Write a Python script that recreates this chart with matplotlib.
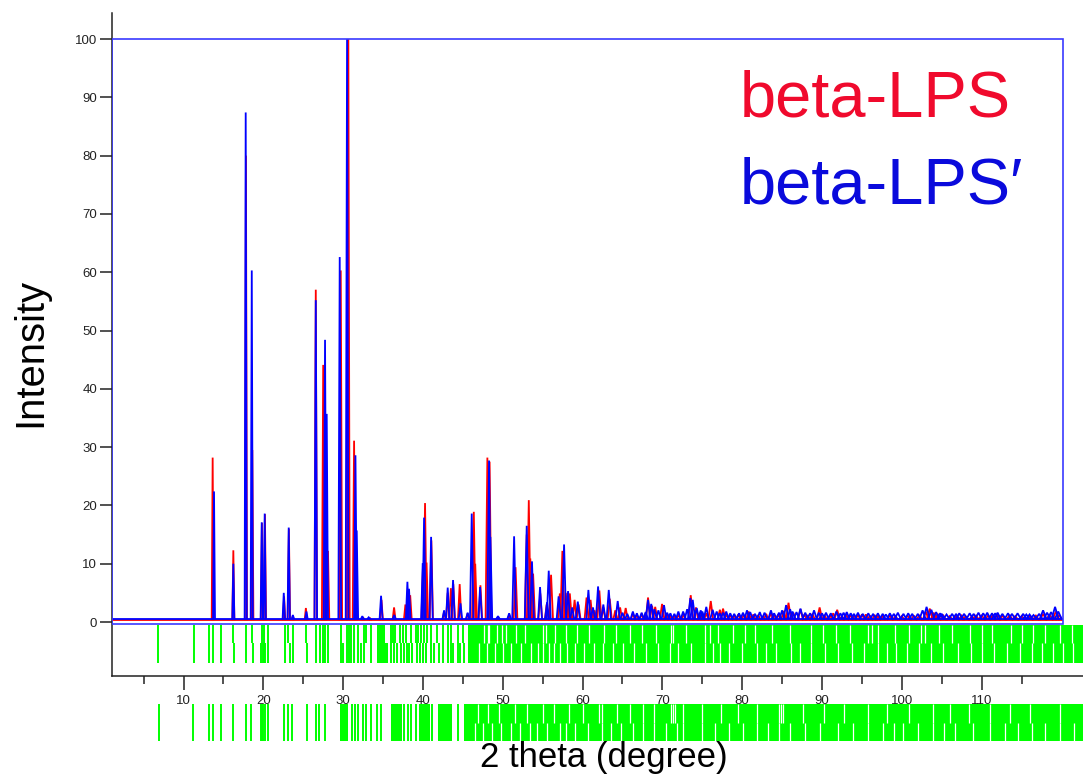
import matplotlib
matplotlib.use("Agg")
import matplotlib.pyplot as plt
from matplotlib.collections import LineCollection
from matplotlib.patches import Rectangle

plt.rcParams['font.family'] = ['Liberation Sans', 'DejaVu Sans']

# ---------------- data ----------------
red_pos = [13.65, 16.24, 17.82, 18.62, 19.82, 20.2, 22.6, 23.2, 23.7, 25.33, 26.57, 27.5, 27.7, 28.1,
           29.7, 30.65, 31.37, 31.6, 32.5, 33.4, 34.8, 36.38, 37.8, 38.1, 38.4, 40.0, 40.26, 40.45,
           41.05, 42.65, 43.1, 43.5, 43.8, 44.6, 45.6, 46.37, 46.55, 47.2, 48.07, 48.35, 49.4, 50.8,
           51.6, 53.0, 53.26, 53.45, 53.8, 54.7, 55.5, 56.05, 57.15, 57.47, 57.9, 58.4, 59.0, 59.5,
           60.5, 61.0, 61.5, 62.1, 62.6, 63.4, 64.1, 64.7, 65.4, 66.3, 67.4, 68.2, 68.7, 69.1, 69.96,
           70.5, 72.0, 73.55, 74.2, 75.0, 76.06, 77.2, 77.6, 78.5, 79.5, 80.8, 82.0, 83.6, 84.5, 85.8,
           87.3, 88.2, 89.7, 91.0, 91.9, 93.0, 94.5, 95.5, 97.0, 98.5, 100.0, 101.5, 103.5, 104.5,
           106.0, 108.0, 110.0, 112.0, 113.5, 115.0, 117.7, 119.3]
red_int = [28.2, 12.3, 80.0, 29.5, 17.0, 18.5, 4.4, 16.0, 1.0, 2.4, 57.0, 44.1, 40.0, 12.2,
           60.3, 100.0, 31.1, 15.0, 0.8, 0.6, 3.8, 2.5, 3.0, 5.5, 4.6, 9.5, 20.4, 10.2,
           14.0, 1.8, 5.0, 5.8, 6.5, 6.5, 1.5, 18.9, 10.0, 6.3, 28.2, 27.5, 0.8, 1.2,
           9.4, 15.0, 20.9, 10.9, 8.3, 4.9, 3.0, 8.1, 4.9, 12.2, 5.0, 4.9, 3.8, 3.0,
           4.2, 3.8, 2.0, 5.4, 2.5, 4.0, 2.0, 2.5, 2.4, 1.5, 1.4, 4.2, 2.8, 2.6, 3.1,
           1.5, 1.3, 4.6, 2.5, 1.5, 3.6, 2.1, 2.3, 1.2, 1.3, 1.8, 1.2, 1.5, 1.3, 3.3,
           2.2, 1.2, 2.5, 1.2, 2.1, 1.3, 1.2, 1.3, 1.0, 1.1, 1.0, 1.1, 2.3, 1.4,
           1.0, 1.0, 1.2, 1.3, 1.2, 1.0, 1.4, 1.8]
# small high-angle bumps (beta-LPS)
red_minor_pos = [66.8, 67.9, 70.9, 71.5, 72.7, 74.7, 75.5, 78.0, 79.0, 80.2, 81.4, 82.6, 83.0, 84.0,
                 85.2, 86.4, 87.8, 88.8, 90.3, 91.4, 92.5, 93.6, 94.0, 95.0, 96.0, 96.6, 97.6, 99.2,
                 100.7, 102.2, 103.0, 104.0, 105.2, 106.8, 107.5, 108.8, 109.3, 110.8, 111.4, 112.6,
                 114.2, 116.0, 116.8, 118.5, 119.7]
red_minor_int = [1.2, 1.5, 1.3, 1.0, 1.4, 1.6, 1.5, 1.3, 1.1, 1.2, 1.3, 1.0, 1.4, 1.1,
                 1.9, 1.6, 1.3, 1.4, 1.2, 1.5, 1.0, 1.2, 1.1, 1.3, 1.1, 1.2, 1.0, 1.0,
                 1.1, 1.2, 1.8, 1.6, 1.1, 1.0, 1.1, 1.0, 1.1, 1.1, 1.2, 1.1,
                 1.0, 1.0, 1.1, 1.3, 1.2]
red_base = 0.3

blue_pos = [13.82, 16.24, 17.79, 18.55, 19.8, 20.17, 22.56, 23.18, 23.7, 25.4, 26.57, 27.73, 27.94,
            29.57, 30.49, 31.54, 31.7, 32.4, 33.2, 34.75, 36.4, 38.05, 38.25, 39.97, 40.14, 41.02,
            42.65, 43.1, 43.77, 44.7, 45.6, 46.11, 47.16, 48.28, 48.45, 49.4, 50.8, 51.42, 53.0,
            53.66, 54.67, 55.55, 55.76, 57.0, 57.68, 58.18, 58.7, 59.4, 60.73, 61.3, 61.94, 62.6,
            63.28, 64.4, 65.0, 66.3, 67.4, 68.2, 68.6, 69.5, 70.2, 71.0, 72.0, 72.6, 73.5, 73.8,
            74.8, 75.5, 76.3, 77.2, 78.0, 79.0, 80.6, 82.2, 83.6, 84.6, 85.5, 86.3, 87.3, 88.5,
            89.0, 90.5, 91.8, 93.1, 94.5, 95.8, 97.0, 98.5, 99.5, 100.8, 102.0, 103.1, 103.7,
            105.0, 107.2, 108.5, 109.6, 110.7, 112.0, 113.3, 114.5, 116.0, 117.7, 119.2]
blue_int = [22.4, 10.0, 87.4, 60.3, 17.1, 18.6, 5.0, 16.2, 1.2, 1.8, 55.2, 48.4, 35.7,
            62.6, 100.0, 28.6, 15.7, 1.0, 0.8, 4.5, 1.2, 6.9, 5.7, 10.1, 17.9, 14.6,
            2.0, 5.9, 7.2, 3.2, 1.6, 18.6, 6.0, 27.7, 14.6, 1.0, 1.5, 14.7, 16.5,
            10.4, 6.0, 3.4, 8.8, 4.4, 13.3, 5.3, 2.5, 3.5, 5.5, 2.5, 6.1, 3.0,
            5.5, 3.6, 1.6, 1.8, 1.6, 3.8, 3.1, 2.0, 2.9, 1.5, 1.8, 1.8, 4.1, 3.8,
            2.0, 2.6, 2.1, 1.5, 1.8, 1.4, 2.0, 1.7, 2.0, 1.6, 2.9, 1.8, 2.3, 1.5,
            2.0, 1.6, 1.8, 1.7, 1.6, 1.5, 1.5, 1.5, 1.6, 1.5, 1.4, 2.6, 2.1,
            1.4, 1.5, 1.5, 1.6, 1.6, 1.6, 1.5, 1.5, 1.3, 2.0, 2.6]
# small high-angle bumps (beta-LPS')
blue_minor_pos = [65.6, 66.8, 67.9, 69.0, 70.6, 71.5, 73.1, 74.3, 75.0, 76.8, 77.6, 78.5, 79.6, 80.1,
                  81.0, 81.6, 82.8, 84.0, 85.0, 86.0, 86.8, 87.9, 89.6, 90.0, 91.1, 92.3, 92.7, 93.6,
                  94.0, 95.1, 96.4, 97.6, 98.0, 99.0, 100.2, 101.3, 102.6, 104.3, 104.8, 105.6, 106.3,
                  106.8, 107.8, 109.0, 110.2, 111.3, 111.7, 112.6, 113.8, 115.2, 115.6, 116.5, 117.2,
                  118.2, 118.7, 119.6]
blue_minor_int = [1.4, 1.5, 1.7, 2.2, 1.6, 1.4, 2.2, 2.4, 1.8, 1.8, 1.6, 1.5, 1.5, 1.6,
                  1.7, 1.4, 1.6, 1.5, 2.0, 2.2, 1.7, 1.6, 1.6, 1.5, 1.5, 1.5, 1.6, 1.5,
                  1.4, 1.4, 1.4, 1.4, 1.3, 1.4, 1.4, 1.4, 2.0, 1.7, 1.5, 1.3, 1.4,
                  1.4, 1.4, 1.4, 1.5, 1.5, 1.5, 1.4, 1.4, 1.4, 1.3, 1.2, 1.4,
                  1.6, 1.7, 1.8]
blue_base = 0.5

x_range = [1.0, 120.2]

# reflection tick marks: row 1 (inside axes) and row 2 (below tick labels)
row1_top_ticks = [6.77, 11.32, 13.15, 13.74, 14.66, 16.2, 17.79, 18.58, 19.84, 20.09, 20.59, 22.68,
                  23.14, 23.76, 25.39, 26.6, 27.15, 27.52, 27.69, 28.1, 29.7, 30.45, 30.7, 30.95,
                  31.36, 31.86, 32.6, 32.87, 33.5, 36.05, 36.3, 36.55, 37.09, 37.5, 37.9, 38.47,
                  39.1, 39.35, 39.7, 40.1, 40.5, 40.97, 41.7, 42.5, 43.1, 43.5, 44.4, 45.0]
row1_top_bands = [(34.25, 35.25), (45.6, 122.7)]
row1_top_gaps = [47.66, 48.16, 48.3, 49.33, 49.9, 50.4, 51.7, 52.8, 55.0, 55.45, 56.6, 57.9, 59.3,
                 60.75, 62.7, 64.2, 66.0, 67.5, 69.2, 71.1, 71.3, 73.0, 75.4, 76.0, 77.0, 78.8,
                 80.3, 81.6, 83.7, 86.0, 88.6, 90.1, 91.8, 93.5, 95.7, 96.2, 97.0, 99.1, 100.9,
                 102.4, 102.9, 104.6, 106.3, 108.6, 110.0, 111.3, 113.7, 115.1, 116.4, 118.0, 119.8,
                 121.3]
row1_bot_ticks = [6.77, 11.32, 13.15, 13.74, 14.74, 16.33, 17.83, 18.71, 19.75, 19.92, 20.09, 20.25,
                  20.59, 22.76, 23.35, 23.76, 25.47, 26.65, 27.11, 27.44, 27.61, 27.77, 28.1, 29.7,
                  30.03, 30.45, 30.7, 31.03, 31.36, 31.86, 32.2, 32.6, 33.5, 36.05, 36.4, 36.7,
                  37.2, 37.6, 38.05, 38.3, 38.6, 39.2, 39.6, 40.0, 40.4, 40.97, 41.4, 41.97, 42.5,
                  43.1, 43.5, 43.8, 44.4, 44.7, 45.2]
row1_bot_bands = [(34.2, 35.6), (45.65, 122.7)]
row1_bot_gaps = [47.0, 48.0, 49.0, 50.0, 51.0, 52.3, 53.5, 54.4, 55.0, 55.8, 56.4, 57.2, 58.1, 59.0,
                 60.2, 61.4, 62.6, 63.8, 65.1, 66.5, 67.9, 69.5, 71.0, 72.0, 73.6, 75.4, 76.3, 77.2,
                 78.3, 80.0, 81.8, 83.0, 84.2, 86.1, 87.3, 88.6, 90.4, 92.0, 93.7, 95.2, 97.0, 98.1,
                 99.3, 100.7, 102.2, 103.7, 105.2, 107.0, 108.7, 110.1, 111.5, 113.2, 114.8, 116.3,
                 117.6, 118.9, 120.2, 121.5]

row2_top_ticks = [6.89, 11.23, 13.15, 13.74, 14.66, 16.2, 17.79, 18.42, 19.67, 19.84, 20.0, 20.17,
                  20.59, 22.6, 23.1, 23.64, 25.43, 26.6, 27.02, 27.77, 31.11, 31.53, 31.86, 32.53,
                  32.87, 33.5, 34.29, 34.7, 37.63, 38.13, 38.47, 39.18, 41.14, 44.4]
row2_top_bands = [(29.6, 30.65), (36.0, 37.35), (39.55, 40.9), (41.85, 43.6), (45.2, 122.7)]
row2_top_gaps = [46.9, 48.2, 49.5, 51.5, 53.0, 55.0, 56.4, 58.3, 60.1, 62.0, 62.4, 64.3, 66.0, 67.6,
                 68.9, 71.1, 71.35, 71.6, 72.6, 75.0, 77.3, 79.5, 81.8, 84.6, 84.85, 85.1, 87.6,
                 90.3, 92.8, 95.7, 98.1, 100.9, 103.9, 106.0, 108.4, 111.1, 113.5, 116.0, 119.8]
row2_bot_ticks = row2_top_ticks
row2_bot_bands = row2_top_bands
row2_bot_gaps = [46.5, 47.5, 48.6, 49.8, 51.0, 52.2, 53.4, 54.3, 55.6, 57.2, 57.9, 59.0, 60.7, 62.4,
                 63.6, 64.8, 66.3, 67.6, 68.9, 70.4, 71.8, 72.6, 75.0, 76.6, 78.4, 80.1, 81.8, 83.2,
                 84.6, 86.0, 87.9, 89.8, 92.0, 93.9, 95.7, 97.6, 99.0, 100.2, 102.0, 103.9, 105.3,
                 106.7, 108.9, 111.1, 112.9, 114.6, 116.3, 118.0, 119.8, 121.6]

y_ticks = [0, 10, 20, 30, 40, 50, 60, 70, 80, 90, 100]
x_major = [10, 20, 30, 40, 50, 60, 70, 80, 90, 100, 110]
x_minor = [5, 15, 25, 35, 45, 55, 65, 75, 85, 95, 105, 115]

# ---------------- figure ----------------
W, H = 1083, 775
fig = plt.figure(figsize=(W / 100, H / 100), dpi=100)
fig.patch.set_facecolor('white')

ax_l, ax_r, ax_t, ax_b = 111.7, 1083.0, 13.0, 675.7
ax = fig.add_axes([ax_l / W, 1 - ax_b / H, (ax_r - ax_l) / W, (ax_b - ax_t) / H])
ax.set_xlim(1.0, 122.7)
ax.set_ylim(-9.21, 104.46)

RED = '#ff0000'
BLUE = '#0000ff'
GREEN = '#00ff00'


def peak_segments(pos, inten, base):
    segs = []
    for p, h in zip(pos, inten):
        hw = 0.08 + 0.003 * p
        segs.append([(p - hw, base), (p, h), (p + hw, base)])
    return segs


for pos, inten, mpos, mint, base, col in [
        (red_pos, red_int, red_minor_pos, red_minor_int, red_base, RED),
        (blue_pos, blue_int, blue_minor_pos, blue_minor_int, blue_base, BLUE)]:
    ax.plot(x_range, [base, base], color=col, lw=1.3, zorder=3, solid_capstyle='butt')
    segs = peak_segments(pos, inten, base) + peak_segments(mpos, mint, base)
    ax.add_collection(LineCollection(segs, colors=col, linewidths=1.3, zorder=3,
                                     joinstyle='miter'))

# blue frame
ax.add_patch(Rectangle((x_range[0], -0.26), x_range[1] - x_range[0], 100.26,
                       fill=False, edgecolor='#3a3aff', lw=1.2, zorder=4))


def draw_row(a, y0, y1, ticks, bands, gaps):
    a.vlines(ticks, y0, y1, colors=GREEN, lw=1.4, zorder=2)
    for s, e in bands:
        a.add_patch(Rectangle((s, y0), e - s, y1 - y0, facecolor=GREEN, edgecolor='none', zorder=2))
    a.vlines(gaps, y0, y1, colors='white', lw=0.9, zorder=2.5)


# row 1 inside main axes
draw_row(ax, -3.55, -0.45, row1_top_ticks, row1_top_bands, row1_top_gaps)
draw_row(ax, -6.98, -3.55, row1_bot_ticks, row1_bot_bands, row1_bot_gaps)

# row 2 below tick labels
r2_t, r2_b = 703.7, 741.3
ax2 = fig.add_axes([ax_l / W, 1 - r2_b / H, (ax_r - ax_l) / W, (r2_b - r2_t) / H])
ax2.set_xlim(1.0, 122.7)
ax2.set_ylim(0, 1)
ax2.axis('off')
draw_row(ax2, 0.5, 1.0, row2_top_ticks, row2_top_bands, row2_top_gaps)
draw_row(ax2, 0.0, 0.5, row2_bot_ticks, row2_bot_bands, row2_bot_gaps)

# axes styling
for s in ['top', 'right']:
    ax.spines[s].set_visible(False)
for s in ['left', 'bottom']:
    ax.spines[s].set_color('#222222')
    ax.spines[s].set_linewidth(1.1)

ax.set_yticks(y_ticks)
ax.set_yticklabels([str(v) for v in y_ticks])
ax.set_xticks(x_major)
ax.set_xticklabels([str(v) for v in x_major])
ax.set_xticks(x_minor, minor=True)
ax.tick_params(axis='y', direction='out', length=8.6, width=1.1, color='#222222',
               labelsize=9.5, pad=2, labelcolor='#222222')
ax.tick_params(axis='x', which='major', direction='out', length=10, width=1.1, color='#222222',
               labelsize=9.5, pad=4, labelcolor='#222222')
ax.tick_params(axis='x', which='minor', direction='out', length=5.8, width=1.1, color='#222222')

# labels
fig.text(603.5 / W, 8.5 / H, '2 theta (degree)', ha='center', va='baseline', fontsize=25,
         color='black')
fig.text(30 / W, 1 - 352 / H, 'Intensity', rotation=90, ha='center', va='center',
         fontsize=28.8, color='black')

# legend-like texts
fig.text(740 / W, 1 - 116.7 / H, 'beta-LPS', ha='left', va='baseline', fontsize=46.8,
         color='#f00a2d')
fig.text(740 / W, 1 - 203.3 / H, 'beta-LPS\u2032', ha='left', va='baseline', fontsize=46.8,
         color='#0a0adc')

fig.savefig('out.png', dpi=100, facecolor='white')
